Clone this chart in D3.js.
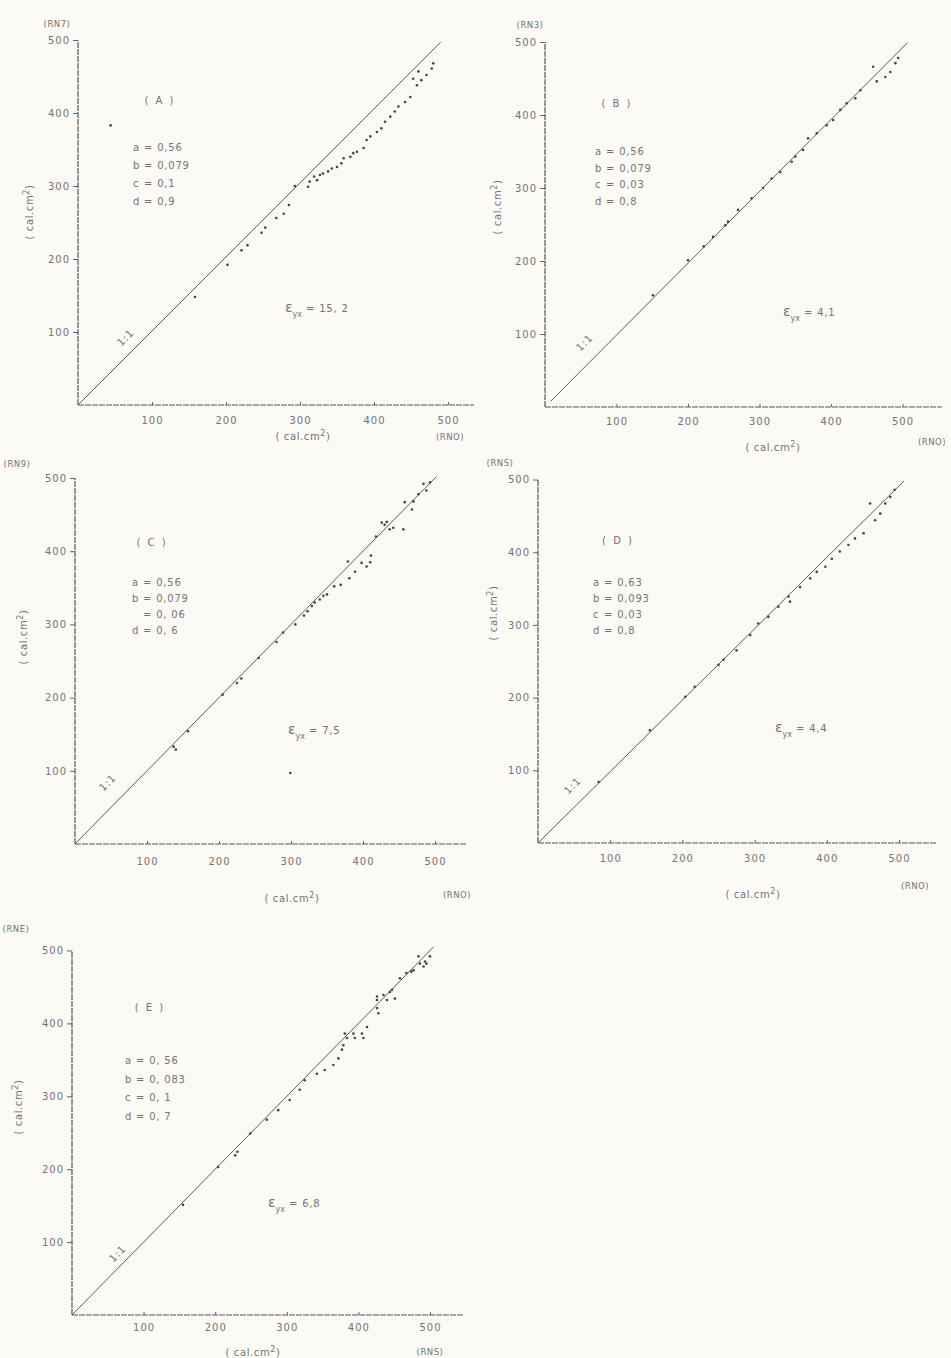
<!DOCTYPE html>
<html>
<head>
<meta charset="utf-8">
<script src="https://cdn.jsdelivr.net/npm/d3@7"></script>
<style>
  body { margin: 0; background: #fbfaf4; }
  svg { display: block; }
  text { font-family: "DejaVu Sans", sans-serif; fill: #747474; }
</style>
</head>
<body>
<svg id="chart" width="951" height="1358"></svg>
<script>
// Tick values shared by every panel
const tickValues = [100, 200, 300, 400, 500];

// Panel identifiers and axis names
const panelIds = ["A", "B", "C", "D", "E"];
const yNames = ["(RN7)", "(RN3)", "(RN9)", "(RNS)", "(RNE)"];
const xNames = ["(RNO)", "(RNO)", "(RNO)", "(RNO)", "(RNS)"];

// Model coefficients printed in each panel: [letter, value]
const paramsA = [["a", "0,56"], ["b", "0,079"], ["c", "0,1"], ["d", "0,9"]];
const paramsB = [["a", "0,56"], ["b", "0,079"], ["c", "0,03"], ["d", "0,8"]];
const paramsC = [["a", "0,56"], ["b", "0,079"], ["", "0, 06"], ["d", "0, 6"]];
const paramsD = [["a", "0,63"], ["b", "0,093"], ["c", "0,03"], ["d", "0,8"]];
const paramsE = [["a", "0, 56"], ["b", "0, 083"], ["c", "0, 1"], ["d", "0, 7"]];

// Standard error of estimate (cal.cm-2)
const errValues = ["15, 2", "4,1", "7,5", "4,4", "6,8"];

// Observed (x) versus estimated (y) net radiation, cal.cm-2
const pointsA = [
  [44, 383], [158, 148], [202, 192], [221, 212], [229, 219], [248, 236], [253, 243],
  [268, 256], [278, 262], [285, 274], [293, 300], [311, 299], [313, 306], [319, 313],
  [323, 308], [327, 315], [331, 317], [338, 320], [343, 324], [350, 326], [356, 331],
  [359, 338], [368, 340], [372, 345], [377, 347], [386, 352], [390, 363], [395, 368],
  [404, 374], [410, 379], [415, 388], [422, 395], [428, 402], [433, 409], [442, 415],
  [449, 422], [453, 447], [458, 438], [460, 457], [464, 445], [471, 452], [478, 461],
  [480, 468]
];
const pointsB = [
  [151, 153], [200, 201], [222, 220], [235, 233], [252, 249], [256, 254], [270, 270],
  [289, 286], [305, 300], [317, 313], [329, 322], [345, 336], [350, 343], [361, 352],
  [368, 368], [380, 375], [394, 386], [403, 393], [413, 407], [422, 416], [434, 423],
  [441, 434], [459, 466], [464, 446], [476, 452], [483, 459], [490, 471], [494, 478]
];
const pointsC = [
  [137, 133], [140, 129], [157, 154], [205, 204], [225, 220], [231, 226], [255, 254],
  [280, 276], [289, 289], [306, 300], [299, 97], [318, 312], [323, 318], [329, 325],
  [333, 330], [340, 334], [345, 339], [350, 341], [360, 352], [369, 354], [381, 363],
  [379, 386], [389, 372], [398, 384], [405, 379], [410, 385], [411, 394], [418, 420],
  [426, 439], [430, 436], [433, 440], [437, 430], [442, 432], [456, 430], [458, 467],
  [470, 468], [468, 457], [477, 478], [488, 483], [484, 492], [493, 494]
];
const pointsD = [
  [84, 84], [155, 155], [204, 201], [217, 215], [250, 245], [257, 252], [275, 265],
  [294, 286], [305, 302], [319, 311], [333, 325], [349, 332], [347, 339], [363, 352],
  [377, 364], [386, 373], [398, 380], [407, 391], [418, 401], [430, 410], [439, 419],
  [451, 426], [460, 467], [467, 444], [474, 453], [481, 467], [488, 476], [494, 486]
];
const pointsE = [
  [155, 151], [204, 203], [228, 219], [231, 224], [249, 249], [272, 268], [288, 281],
  [304, 295], [318, 309], [325, 322], [342, 331], [353, 336], [365, 343], [372, 352],
  [377, 364], [379, 370], [381, 386], [384, 380], [393, 386], [395, 380], [405, 386],
  [407, 380], [412, 395], [426, 421], [428, 414], [426, 437], [426, 432], [435, 439],
  [440, 432], [444, 443], [447, 446], [451, 434], [458, 462], [467, 469], [474, 471],
  [477, 473], [484, 492], [486, 482], [491, 478], [493, 485], [495, 482], [500, 492]
];

const allParams = [paramsA, paramsB, paramsC, paramsD, paramsE];
const allPoints = [pointsA, pointsB, pointsC, pointsD, pointsE];

// Placement of each panel on the page (pixel layout)
const layout = [
  { ox: 78, oy: 405, kx: 0.74, ky: 0.73, xEnd: 535, line: [0, 0, 490, 497],
    title: [160, 104], params: [133, 151, 18], err: [285, 312], one: [128, 340],
    yLab: [29, 212], xLab: [303, 440], xName: [450, 440], yName: [57, 27], tickPad: 9 },
  { ox: 545, oy: 407, kx: 0.715, ky: 0.73, xEnd: 555, line: [8, 8, 507, 499],
    title: [617, 107], params: [595, 155, 16.5], err: [783, 316], one: [587, 345],
    yLab: [497, 207], xLab: [773, 451], xName: [932, 445], yName: [530, 28], tickPad: 8 },
  { ox: 75, oy: 844, kx: 0.72, ky: 0.732, xEnd: 544, line: [0, 0, 502, 502],
    title: [152, 546], params: [132, 586, 16], err: [288, 734], one: [110, 785],
    yLab: [23, 637], xLab: [292, 902], xName: [457, 898], yName: [17, 467], tickPad: 11 },
  { ox: 538, oy: 843, kx: 0.722, ky: 0.727, xEnd: 552, line: [0, 0, 507, 498],
    title: [618, 544], params: [593, 586, 16], err: [775, 732], one: [575, 788],
    yLab: [493, 613], xLab: [753, 898], xName: [915, 889], yName: [500, 466], tickPad: 9 },
  { ox: 72, oy: 1315, kx: 0.716, ky: 0.729, xEnd: 546, line: [0, 0, 505, 505],
    title: [150, 1011], params: [125, 1064, 18.5], err: [268, 1207], one: [120, 1256],
    yLab: [18, 1107], xLab: [253, 1356], xName: [430, 1355], yName: [16, 932], tickPad: 6 }
];

const svg = d3.select("#chart");
svg.append("rect").attr("width", 951).attr("height", 1358).attr("fill", "#fbfaf4");

// Unit label "(cal.cm²)" with raised exponent
function unitLabel(sel, prefix) {
  sel.append("tspan").text(prefix);
  sel.append("tspan").attr("baseline-shift", "super").attr("font-size", "8px").text("2");
  sel.append("tspan").text(")");
}

layout.forEach((L, i) => {
  const g = svg.append("g");
  const x = d3.scaleLinear().domain([0, 500]).range([L.ox, L.ox + 500 * L.kx]);
  const y = d3.scaleLinear().domain([0, 500]).range([L.oy, L.oy - 500 * L.ky]);

  // Axes
  const xAxis = d3.axisBottom(x).tickValues(tickValues).tickSize(3).tickPadding(L.tickPad);
  const yAxis = d3.axisLeft(y).tickValues(tickValues).tickSize(5).tickPadding(3);
  const gx = g.append("g").attr("transform", `translate(0,${L.oy})`).call(xAxis);
  const gy = g.append("g").attr("transform", `translate(${L.ox},0)`).call(yAxis);
  [gx, gy].forEach(a => {
    a.select(".domain").remove();
    a.selectAll(".tick line").attr("stroke", "#666").attr("stroke-width", 1);
    a.selectAll(".tick text").attr("fill", "#7a7a7a").attr("font-size", "10px")
      .attr("letter-spacing", "1px").attr("font-family", "DejaVu Sans, sans-serif");
  });
  gx.selectAll(".tick line").attr("y2", -3);

  // Axis lines
  g.append("line").attr("x1", x(0)).attr("x2", x(L.xEnd)).attr("y1", y(0)).attr("y2", y(0))
    .attr("stroke", "#555").attr("stroke-width", 1.2).attr("stroke-dasharray", "6,1");
  g.append("line").attr("x1", x(0)).attr("x2", x(0)).attr("y1", y(0)).attr("y2", y(500))
    .attr("stroke", "#555").attr("stroke-width", 1.2).attr("stroke-dasharray", "6,1");

  // 1:1 reference line
  g.append("line")
    .attr("x1", x(L.line[0])).attr("y1", y(L.line[1]))
    .attr("x2", x(L.line[2])).attr("y2", y(L.line[3]))
    .attr("stroke", "#5c5c5c").attr("stroke-width", 1);

  // Observations
  g.selectAll("circle.pt").data(allPoints[i]).join("circle")
    .attr("class", "pt")
    .attr("cx", d => x(d[0])).attr("cy", d => y(d[1]))
    .attr("r", 1.3).attr("fill", "#444");

  // Panel letter
  g.append("text").attr("x", L.title[0]).attr("y", L.title[1]).attr("text-anchor", "middle")
    .attr("font-size", "10px").attr("letter-spacing", "2px").text(`( ${panelIds[i]} )`);

  // Coefficients
  allParams[i].forEach((p, j) => {
    const ty = L.params[1] + j * L.params[2];
    g.append("text").attr("x", L.params[0]).attr("y", ty).attr("font-size", "10px").text(p[0]);
    g.append("text").attr("x", L.params[0] + 11).attr("y", ty).attr("font-size", "10px")
      .attr("letter-spacing", "0.8px").text(`= ${p[1]}`);
  });

  // Standard error
  const e = g.append("text").attr("x", L.err[0]).attr("y", L.err[1]).attr("font-size", "10px");
  e.append("tspan").attr("font-size", "14px").text("\u03B5");
  e.append("tspan").attr("baseline-shift", "sub").attr("font-size", "8px").text("yx");
  e.append("tspan").attr("dx", 4).attr("letter-spacing", "0.8px").text(`=  ${errValues[i]}`);

  // 1:1 tag along the line
  g.append("text").attr("transform", `translate(${L.one[0]},${L.one[1]}) rotate(-45)`)
    .attr("text-anchor", "middle").attr("font-size", "10px").attr("letter-spacing", "1px")
    .attr("fill", "#8a8a8a").text("1:1");

  // Axis unit labels
  const yl = g.append("text").attr("transform", `translate(${L.yLab[0]},${L.yLab[1]}) rotate(-90)`)
    .attr("text-anchor", "middle").attr("dy", "0.35em").attr("font-size", "10px").attr("letter-spacing", "0.6px");
  unitLabel(yl, "( cal.cm");
  const xl = g.append("text").attr("x", L.xLab[0]).attr("y", L.xLab[1]).attr("text-anchor", "middle")
    .attr("font-size", "10px").attr("letter-spacing", "0.6px");
  unitLabel(xl, "( cal.cm");

  g.append("text").attr("x", L.xName[0]).attr("y", L.xName[1]).attr("text-anchor", "middle")
    .attr("font-size", "8.5px").attr("letter-spacing", "0.5px").text(xNames[i]);
  g.append("text").attr("x", L.yName[0]).attr("y", L.yName[1]).attr("text-anchor", "middle")
    .attr("font-size", "8.5px").attr("letter-spacing", "0.5px").text(yNames[i]);
});
</script>
</body>
</html>
